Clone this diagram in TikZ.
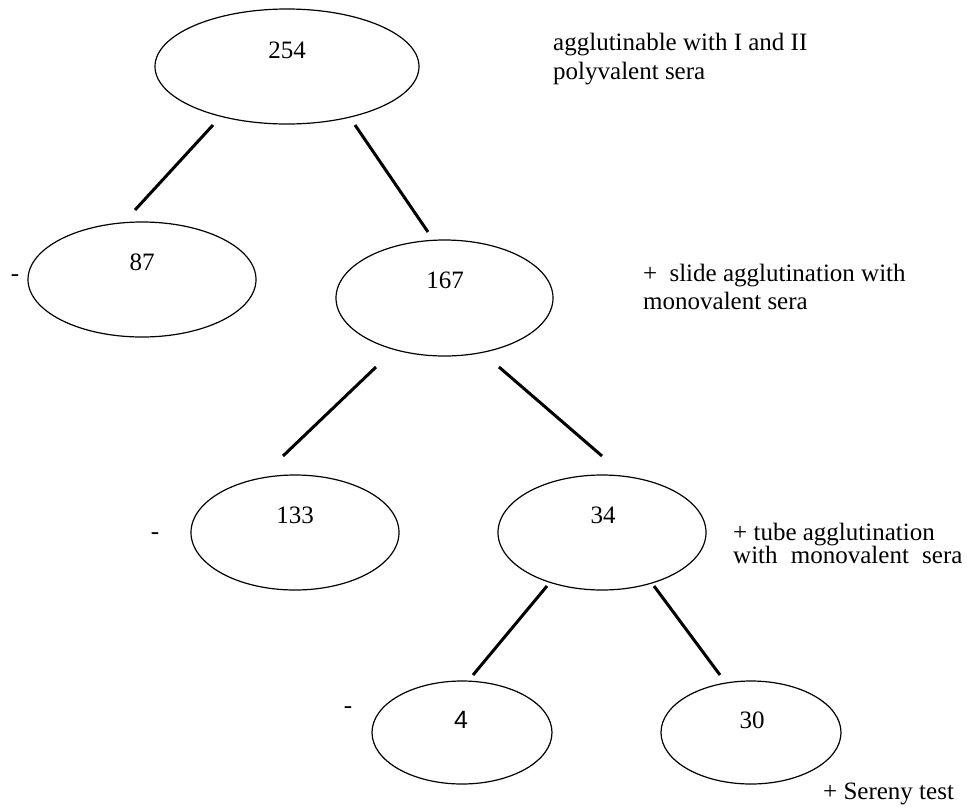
\documentclass[tikz,border=0pt]{standalone}
\usepackage{fontspec}
\setmainfont{Liberation Serif}
\newfontfamily\arialf{Liberation Sans}
\usetikzlibrary{shapes.geometric}
\begin{document}
\begin{tikzpicture}[x=1pt,y=-1pt,
  oval/.style={draw, ellipse, line width=1.2pt, inner sep=0pt},
  conn/.style={line width=3pt},
  num/.style={anchor=base, font=\fontsize{25}{29}\selectfont, inner sep=0pt},
  txt/.style={anchor=base west, font=\fontsize{25}{29}\selectfont, inner sep=0pt},
]
\useasboundingbox (0,0) rectangle (967,807);

% ellipses
\node[oval, minimum width=264pt, minimum height=115pt] (e254) at (287,66.5) {};
\node[oval, minimum width=228pt, minimum height=115pt] (e87) at (142,279.5) {};
\node[oval, minimum width=217pt, minimum height=116pt] (e167) at (444.5,298) {};
\node[oval, minimum width=208pt, minimum height=115pt] (e133) at (295,532.5) {};
\node[oval, minimum width=208pt, minimum height=115pt] (e34) at (602,532.5) {};
\node[oval, minimum width=180pt, minimum height=103pt] (e4) at (462,732.5) {};
\node[oval, minimum width=180pt, minimum height=103pt] (e30) at (751,732.5) {};

% numbers
\node[num] (t254) at (287,58.5) {254};
\node[num] (t87) at (142,270.5) {87};
\node[num] (t167) at (445,288.5) {167};
\node[num] (t133) at (295,523.5) {133};
\node[num] (t34) at (603,523.5) {34};
\node[num] (t4) at (461,728.5) {\arialf 4};
\node[num] (t30) at (752,728.5) {30};

% minus signs
\node[num] (m87) at (15,281) {-};
\node[num] (m133) at (155,539) {-};
\node[num] (m4) at (348,713) {-};

% side texts
\node[txt] (s1a) at (553,50) {agglutinable with I and II};
\node[txt] (s1b) at (553,79) {polyvalent sera};
\node[txt] (s2a) at (643,281) {+\hspace{6pt} slide agglutination with};
\node[txt] (s2b) at (643,309) {monovalent sera};
\node[txt] (s3a) at (733,540) {+ tube agglutination};
\node[txt] (s3b) at (733,563) {with\hspace{7pt} monovalent\hspace{7pt} sera};
\node[txt] (s4) at (823,799) {+ Sereny test};

% connector end points
\coordinate (c1a) at (213,125); \coordinate (c1b) at (135,210);
\coordinate (c2a) at (355,125); \coordinate (c2b) at (428,232);
\coordinate (c3a) at (376,367); \coordinate (c3b) at (283,456);
\coordinate (c4a) at (499,367); \coordinate (c4b) at (602,456);
\coordinate (c5a) at (547,586); \coordinate (c5b) at (473,675);
\coordinate (c6a) at (654,586); \coordinate (c6b) at (720,675);

\draw[conn] (c1a) -- (c1b);
\draw[conn] (c2a) -- (c2b);
\draw[conn] (c3a) -- (c3b);
\draw[conn] (c4a) -- (c4b);
\draw[conn] (c5a) -- (c5b);
\draw[conn] (c6a) -- (c6b);
\end{tikzpicture}
\end{document}
